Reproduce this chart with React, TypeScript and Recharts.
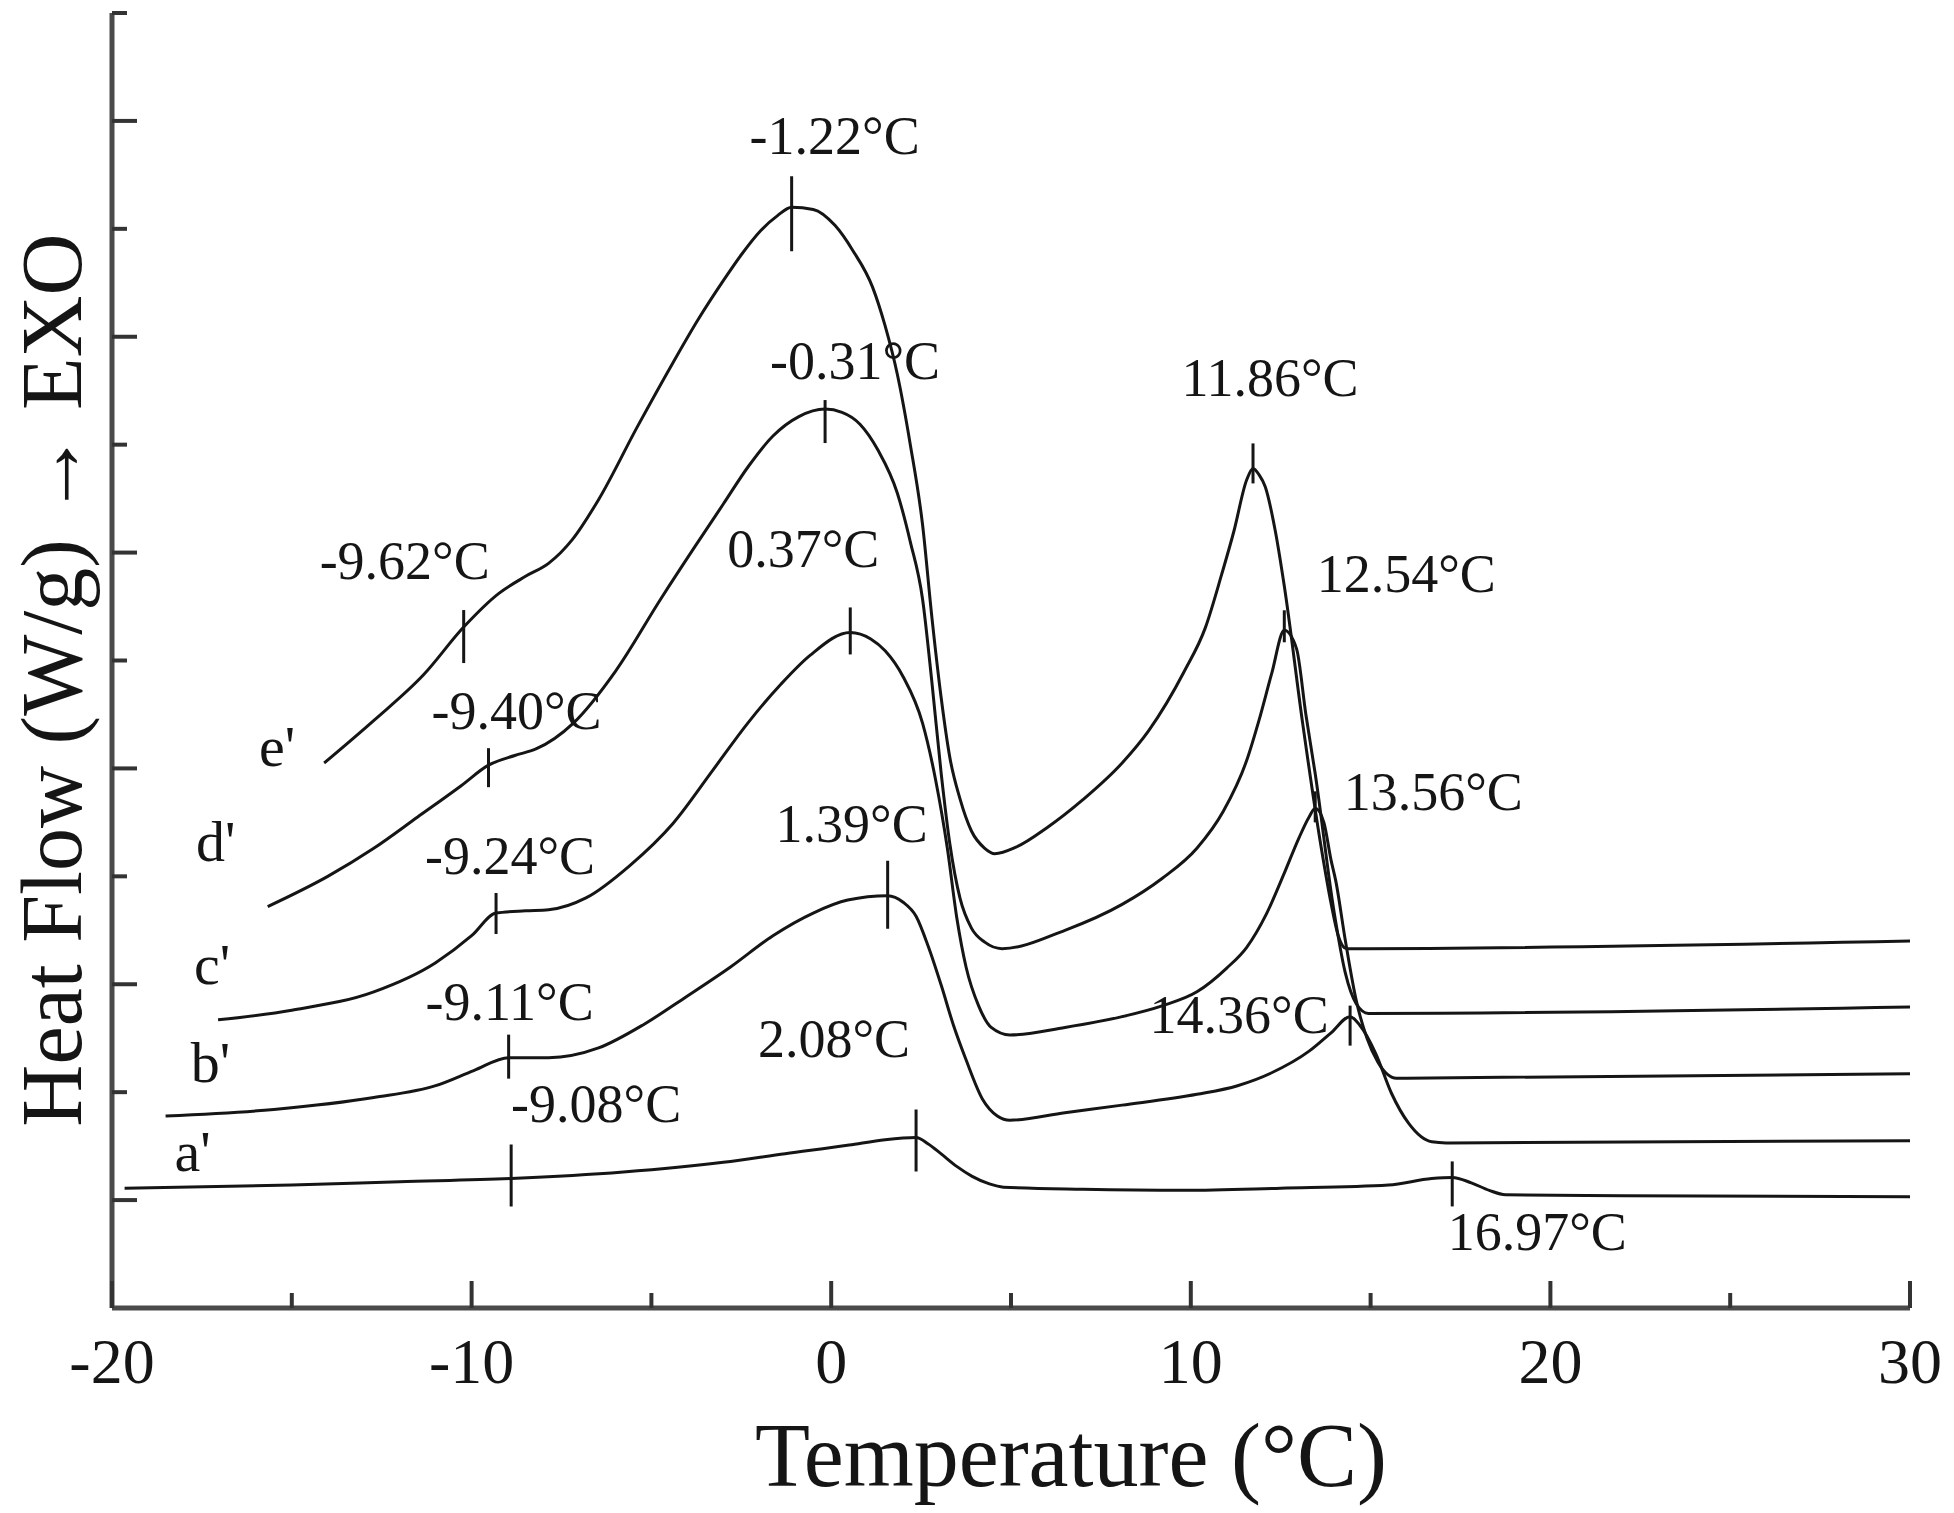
import { ComposedChart, Line, Scatter, XAxis, YAxis } from "recharts";

type Pt = [number, number];

// DSC cooling curves (x = temperature °C, y = heat flow, arbitrary offset units)
const curveA: Pt[] = [
  [-19.65, 1.11], [-15, 1.14], [-12, 1.17], [-8.9, 1.2], [-5.78, 1.26], [-3, 1.35],
  [-1.28, 1.43], [0.5, 1.51], [1.5, 1.56], [2.36, 1.58], [2.7, 1.52], [3.05, 1.43],
  [3.5, 1.31], [3.92, 1.22], [4.4, 1.15], [4.79, 1.12], [7, 1.1], [9.82, 1.09],
  [12.5, 1.11], [15.5, 1.14], [16.7, 1.2], [17.27, 1.21], [17.8, 1.16], [18.3, 1.09],
  [18.75, 1.05], [22, 1.04], [30, 1.03],
];

const curveB: Pt[] = [
  [-18.51, 1.78], [-15.5, 1.84], [-12.72, 1.95], [-11, 2.06], [-9.94, 2.2], [-8.97, 2.32],
  [-7.86, 2.32], [-6.47, 2.41], [-5.2, 2.63], [-4.05, 2.88], [-2.8, 3.16], [-1.62, 3.45],
  [-0.5, 3.66], [0.46, 3.78], [1.57, 3.82], [2.0, 3.76], [2.36, 3.63], [2.7, 3.35],
  [3.06, 2.99], [3.4, 2.62], [3.75, 2.3], [4.2, 1.94], [4.62, 1.78], [4.97, 1.74],
  [6.5, 1.81], [8.09, 1.88], [10.17, 1.98], [11.3, 2.06], [12.25, 2.18], [13.29, 2.38],
  [13.9, 2.55], [14.43, 2.7], [14.7, 2.62], [15.14, 2.36], [15.58, 1.99], [16.06, 1.71],
  [16.7, 1.54], [17.1, 1.53], [30, 1.55],
];

const curveC: Pt[] = [
  [-17.05, 2.67], [-15, 2.76], [-12.72, 2.93], [-11, 3.2], [-10, 3.45], [-9.32, 3.66],
  [-8.5, 3.68], [-7.86, 3.69], [-6.82, 3.8], [-5.6, 4.1], [-4.4, 4.49], [-3.3, 4.98],
  [-2.32, 5.42], [-1.4, 5.78], [-0.58, 6.05], [0.53, 6.26], [1.1, 6.2], [1.5, 6.09],
  [2.0, 5.85], [2.54, 5.42], [2.9, 4.9], [3.23, 4.26], [3.5, 3.6], [3.75, 3.16],
  [4.1, 2.8], [4.45, 2.6], [4.97, 2.53], [6.5, 2.6], [8.09, 2.7], [9.2, 2.8],
  [10.17, 2.93], [11.0, 3.15], [11.55, 3.34], [12.1, 3.65], [12.6, 4.03], [13.0, 4.35],
  [13.29, 4.55], [13.46, 4.63], [13.7, 4.5], [13.9, 4.15], [14.03, 3.96], [14.3, 3.4],
  [14.6, 2.85], [14.9, 2.5], [15.2, 2.28], [15.72, 2.13], [30, 2.17],
];

const curveD: Pt[] = [
  [-15.67, 3.72], [-14, 4.0], [-12.72, 4.26], [-11.5, 4.55], [-10.29, 4.84], [-9.53, 5.03],
  [-8.8, 5.12], [-8.21, 5.18], [-7.17, 5.42], [-6, 5.9], [-4.74, 6.57], [-3.8, 7.05],
  [-3.0, 7.45], [-2.3, 7.8], [-1.62, 8.08], [-0.9, 8.26], [-0.17, 8.33], [0.3, 8.3],
  [0.8, 8.19], [1.3, 7.95], [1.84, 7.55], [2.2, 7.1], [2.54, 6.57], [2.8, 5.8],
  [3.06, 4.95], [3.3, 4.3], [3.58, 3.8], [3.9, 3.52], [4.27, 3.39], [4.75, 3.33],
  [6.5, 3.5], [8.09, 3.74], [9.2, 3.98], [10.17, 4.26], [10.9, 4.6], [11.55, 5.07],
  [11.9, 5.45], [12.25, 5.88], [12.6, 6.28], [12.94, 6.11], [13.2, 5.5], [13.46, 4.95],
  [13.98, 3.68], [14.3, 3.1], [14.6, 2.82], [14.94, 2.73], [30, 2.79],
];

const curveE: Pt[] = [
  [-14.1, 5.05], [-12.7, 5.45], [-11.33, 5.87], [-10.22, 6.31], [-9.25, 6.62], [-8.5, 6.78],
  [-7.86, 6.9], [-7.2, 7.12], [-6.47, 7.49], [-5.4, 8.16], [-4.4, 8.76], [-3.7, 9.16],
  [-3.0, 9.52], [-2.5, 9.76], [-1.97, 9.98], [-1.5, 10.12], [-1.1, 10.2], [-0.5, 10.18],
  [0.11, 10.03], [0.6, 9.8], [1.15, 9.46], [1.5, 9.1], [1.84, 8.65], [2.2, 8.0],
  [2.54, 7.26], [2.8, 6.4], [3.06, 5.65], [3.3, 5.1], [3.58, 4.72], [3.9, 4.42],
  [4.27, 4.26], [4.55, 4.21], [5.14, 4.27], [6.0, 4.45], [7.0, 4.71], [8.09, 5.05],
  [8.83, 5.35], [9.82, 5.9], [10.4, 6.3], [10.86, 6.8], [11.2, 7.2], [11.55, 7.67],
  [11.73, 7.78], [11.9, 7.72], [12.07, 7.61], [12.35, 7.2], [12.6, 6.69], [13.11, 5.42],
  [13.63, 4.26], [13.9, 3.75], [14.1, 3.45], [14.33, 3.33], [30, 3.4],
];

const curveNames = ["a'", "b'", "c'", "d'", "e'"];

// peak / onset markers on each curve, with the temperature printed beside them
const peaksA = [
  { x: -8.9, y: 1.2, label: "-9.08°C" },
  { x: 2.36, y: 1.58, label: "2.08°C" },
  { x: 17.27, y: 1.21, label: "16.97°C" },
];
const peaksB = [
  { x: -8.97, y: 2.32, label: "-9.11°C" },
  { x: 1.57, y: 3.82, label: "1.39°C" },
  { x: 14.43, y: 2.7, label: "14.36°C" },
];
const peaksC = [
  { x: -9.32, y: 3.66, label: "-9.24°C" },
  { x: 0.53, y: 6.26, label: "0.37°C" },
  { x: 13.46, y: 4.63, label: "13.56°C" },
];
const peaksD = [
  { x: -9.53, y: 5.03, label: "-9.40°C" },
  { x: -0.17, y: 8.33, label: "-0.31°C" },
  { x: 12.6, y: 6.28, label: "12.54°C" },
];
const peaksE = [
  { x: -10.22, y: 6.31, label: "-9.62°C" },
  { x: -1.1, y: 10.2, label: "-1.22°C" },
  { x: 11.73, y: 7.78, label: "11.86°C" },
];

const xTicks = [-20, -15, -10, -5, 0, 5, 10, 15, 20, 25, 30];
const yTicks = [1, 2, 3, 4, 5, 6, 7, 8, 9, 10, 11, 12];

// pixel geometry of the marker ticks and where their text sits
const markerGeom: Record<string, { up: number; down: number; dx: number; dy: number }> = {
  "-9.08°C": { up: 34, down: 28, dx: 85, dy: -57 },
  "2.08°C": { up: 28, down: 34, dx: -82, dy: -80 },
  "16.97°C": { up: 16, down: 29, dx: 85, dy: 73 },
  "-9.11°C": { up: 23, down: 21, dx: 1, dy: -38 },
  "1.39°C": { up: 35, down: 33, dx: -36, dy: -54 },
  "14.36°C": { up: 11, down: 29, dx: -111, dy: 16 },
  "-9.24°C": { up: 20, down: 21, dx: 14, dy: -39 },
  "0.37°C": { up: 25, down: 22, dx: -47, dy: -65 },
  "13.56°C": { up: 17, down: 14, dx: 118, dy: 2 },
  "-9.40°C": { up: 17, down: 22, dx: 28, dy: -36 },
  "-0.31°C": { up: 9, down: 34, dx: 30, dy: -30 },
  "12.54°C": { up: 20, down: 12, dx: 122, dy: -38 },
  "-9.62°C": { up: 17, down: 36, dx: -59, dy: -48 },
  "-1.22°C": { up: 31, down: 44, dx: 43, dy: -53 },
  "11.86°C": { up: 25, down: 15, dx: 17, dy: -72 },
};
const nameOffset: Record<string, [number, number]> = {
  "a'": [68, -17],
  "b'": [45, -34],
  "c'": [-6, -36],
  "d'": [-52, -46],
  "e'": [-47, 3],
};

const FONT = "'Liberation Serif', 'Times New Roman', serif";
const INK = "#151515";

const toRows = (pts: Pt[]) => pts.map(([x, y]) => ({ x, y }));
const curves = [curveA, curveB, curveC, curveD, curveE];
const peaks = [...peaksA, ...peaksB, ...peaksC, ...peaksD, ...peaksE];
const starts = curves.map((c, i) => ({ x: c[0][0], y: c[0][1], name: curveNames[i] }));

const MarkerShape = (props: any) => {
  const { cx, cy, payload } = props;
  const g = markerGeom[payload.label];
  return (
    <g>
      <line x1={cx} x2={cx} y1={cy - g.up} y2={cy + g.down} stroke={INK} strokeWidth={3} />
      <text x={cx + g.dx} y={cy + g.dy} textAnchor="middle" fontSize={54} fontFamily={FONT} fill={INK}>
        {payload.label}
      </text>
    </g>
  );
};

const NameShape = (props: any) => {
  const { cx, cy, payload } = props;
  const [dx, dy] = nameOffset[payload.name];
  return (
    <text x={cx + dx} y={cy + dy} textAnchor="middle" fontSize={58} fontFamily={FONT} fill={INK}>
      {payload.name}
    </text>
  );
};

const XTick = (props: any) => {
  const { x, y, payload } = props;
  const major = payload.value % 10 === 0;
  return (
    <g>
      <line x1={x} x2={x} y1={y} y2={y - (major ? 27 : 15)} stroke="#333" strokeWidth={4} />
      {major && (
        <text x={x} y={y + 75} textAnchor="middle" fontSize={64} fontFamily={FONT} fill={INK}>
          {String(payload.value)}
        </text>
      )}
    </g>
  );
};

const YTick = (props: any) => {
  const { x, y, payload } = props;
  const major = payload.value % 2 === 1;
  return <line x1={x} x2={x + (major ? 25 : 15)} y1={y} y2={y} stroke="#333" strokeWidth={4} />;
};

export default function App() {
  return (
    <div style={{ position: "absolute", left: 0, top: 0, background: "#fff" }}>
      <ComposedChart width={1954} height={1513} margin={{ top: 13, right: 44, bottom: 175, left: 0 }}>
        <XAxis
          type="number"
          dataKey="x"
          domain={[-20, 30]}
          ticks={xTicks}
          interval={0}
          allowDataOverflow
          height={30}
          tickSize={0}
          tickMargin={0}
          tickLine={false}
          tick={<XTick />}
          axisLine={{ stroke: "#4a4a4a", strokeWidth: 5 }}
          label={{
            content: () => (
              <text x={1071} y={1486} textAnchor="middle" fontSize={90} fontFamily={FONT} fill={INK}>
                Temperature (°C)
              </text>
            ),
          }}
        />
        <YAxis
          type="number"
          dataKey="y"
          domain={[0, 12]}
          ticks={yTicks}
          interval={0}
          allowDataOverflow
          width={112}
          tickSize={0}
          tickMargin={0}
          tickLine={false}
          tick={<YTick />}
          axisLine={{ stroke: "#4a4a4a", strokeWidth: 5 }}
          label={{
            content: () => (
              <text
                x={81}
                y={680}
                transform="rotate(-90, 81, 680)"
                textAnchor="middle"
                fontSize={86}
                fontFamily={FONT}
                fill={INK}
              >
                Heat Flow (W/g) → EXO
              </text>
            ),
          }}
        />
        {curves.map((c, i) => (
          <Line
            key={curveNames[i]}
            data={toRows(c)}
            dataKey="y"
            type="monotone"
            stroke={INK}
            strokeWidth={3}
            dot={false}
            activeDot={false}
            isAnimationActive={false}
          />
        ))}
        <Scatter data={peaks} dataKey="y" shape={<MarkerShape />} isAnimationActive={false} />
        <Scatter data={starts} dataKey="y" shape={<NameShape />} isAnimationActive={false} />
      </ComposedChart>
    </div>
  );
}
